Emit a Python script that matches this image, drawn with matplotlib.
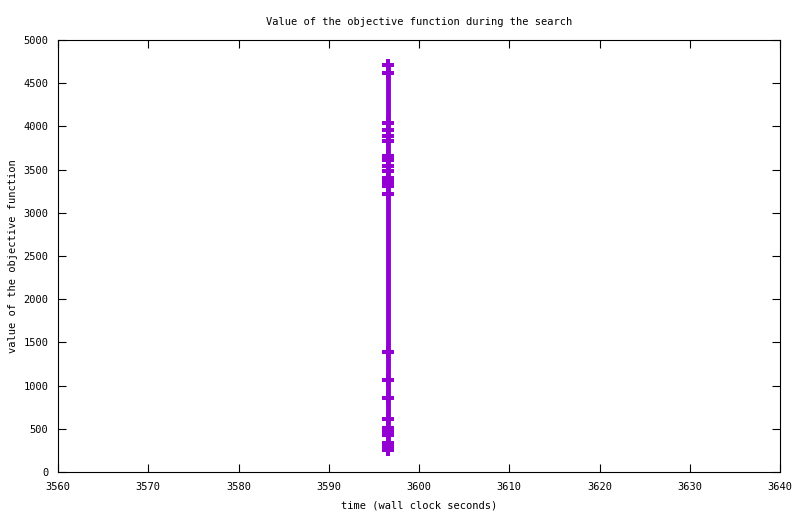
import matplotlib
matplotlib.use("Agg")
import matplotlib.pyplot as plt
import numpy as np

# ------------------------------- Donnees -------------------------------- #

temps = [3596.55] * 25
valeurs = [4714, 4621, 4036, 3958, 3892, 3834, 3657, 3611, 3542, 3487,
           3403, 3356, 3310, 3218, 1389, 1065, 856, 617, 509, 463,
           428, 336, 289, 255, 255]

x_ticks = np.arange(3560, 3641, 10)
y_ticks = np.arange(0, 5001, 500)

COULEUR = "#9400d3"
POLICE = "DejaVu Sans Mono"

# ------------------------------- Figure --------------------------------- #

fig = plt.figure(figsize=(8, 5.14), dpi=100)
ax = fig.add_axes([58 / 800, 1 - 472 / 514, 722 / 800, 432 / 514])

ax.plot(temps, valeurs, color=COULEUR, lw=3.5, marker="P",
        markersize=9, markeredgewidth=0, solid_capstyle="butt")

ax.set_xlim(3560, 3640)
ax.set_ylim(0, 5000)
ax.set_xticks(x_ticks)
ax.set_yticks(y_ticks)
ax.tick_params(direction="in", length=6, width=0.8, top=True, right=True,
               labelsize=7.5, pad=7)
for lab in ax.get_xticklabels() + ax.get_yticklabels():
    lab.set_fontfamily(POLICE)
for s in ax.spines.values():
    s.set_linewidth(0.8)

ax.set_title("Value of the objective function during the search",
             fontsize=7.5, family=POLICE, pad=11)
ax.set_xlabel("time (wall clock seconds)", fontsize=7.5, family=POLICE, labelpad=6)
ax.set_ylabel("value of the objective function", fontsize=7.5, family=POLICE,
              labelpad=4)

fig.savefig("out.png", dpi=100)
